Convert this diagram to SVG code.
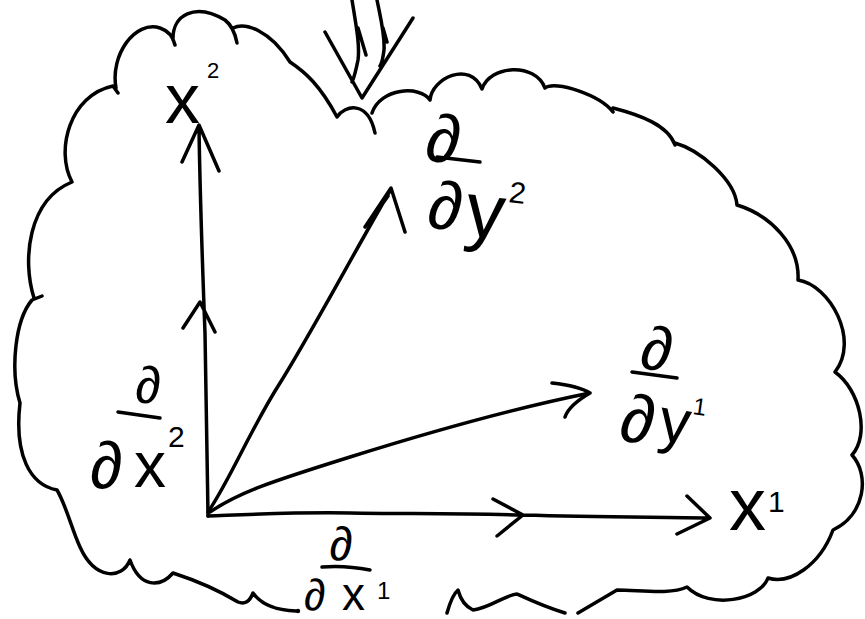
<svg xmlns="http://www.w3.org/2000/svg" width="865" height="619" viewBox="0 0 865 619">
<style>
.ink{fill:none;stroke:#000;stroke-width:3.5;stroke-linecap:round;stroke-linejoin:round}
.t{font-family:"Liberation Sans",Arial,sans-serif;fill:#000}
</style>
<rect width="865" height="619" fill="#fff"/>
<g id="manifold">
<path class="ink" d="M296,611 Q265,610 253,593 Q248,606 238,602 Q210,585 173,573 C160,588 140,588 130,560 C122,580 95,580 80,547 C72,530 66,505 57,490 C30,485 14,455 20,403 C10,370 15,320 32,300 L42,296 M34,298 C22,260 28,200 72,182 C55,150 70,95 113,86 L118,93 M116,88 C110,55 135,20 160,28 Q172,32 175,45 M173,40 C172,15 195,2 225,20 Q234,27 237,43 M233,28 C245,22 270,30 290,62 C305,72 320,85 337,117 C345,105 368,100 375,133 M372,113 C380,88 420,85 430,100 C432,78 470,60 482,89 C490,65 535,62 545,88 C555,80 600,95 613,112 M613,108 C640,115 668,125 675,145 M675,143 C700,150 735,180 737,205 C770,215 800,245 798,280 C830,285 860,340 835,372 C860,390 870,435 852,455 C870,475 865,515 833,530 C820,565 790,585 768,578 C760,600 710,610 687,587 C670,595 640,590 617,590 Q600,600 578,613"/>
<path class="ink" d="M447,613 Q452,595 458,590 Q462,605 473,610 C490,608 505,595 517,594 C530,600 545,607 565,613"/>
<circle cx="298" cy="611" r="2.2" fill="#000"/>
</g>
<g id="connectors">
<path class="ink" d="M352,0 C356,25 360,45 358,60 C356,70 354,78 352,82 M358,28 L366,55 M377,0 C381,20 385,35 384,50 C383,58 382,63 380,66 M383,28 L387,42 M325,32 L362,98 L413,18"/>
<path class="ink" d="M208,516 C207,450 206,380 205,333 C203,280 200,200 199,127 M183,328 L200,302 L215,332 M182,162 L199,125 L219,171"/>
<path class="ink" d="M208,516 C260,514 300,512 350,513 S450,513 523,515 S650,517 710,518 M493,499 L523,515 L497,536 M687,496 L710,518 L677,534"/>
<path class="ink" d="M208,512 C230,480 250,430 280,383 C310,335 350,260 391,189 M365,227 L391,188 L405,232 M369,223 L388,196"/>
<path class="ink" d="M210,512 C240,492 270,482 350,457 C430,432 520,407 590,393 M552,383 C570,385 582,388 590,393 C578,400 568,408 565,417"/>
</g>
<g id="label-x2">
<text class="t" x="165" y="123" font-size="70">x</text>
<text class="t" x="207" y="78" font-size="22">2</text>
</g>
<g id="label-x1">
<text class="t" x="729" y="530" font-size="74">x</text>
<text class="t" x="768" y="512" font-size="30">1</text>
</g>
<g id="label-d-dx1">
<text class="t" x="341" y="560" font-size="47" text-anchor="middle">∂</text>
<path class="ink" d="M322,567 Q345,565 370,570"/>
<text class="t" x="304" y="610" font-size="44">∂</text>
<text class="t" x="342" y="610" font-size="46">x</text>
<text class="t" x="377" y="599" font-size="24">1</text>
</g>
<g id="label-d-dy1">
<text class="t" x="654" y="370" font-size="62" text-anchor="middle" transform="rotate(8 654 370)">∂</text>
<path class="ink" d="M632,372 L677,378"/>
<text class="t" x="618" y="440" font-size="68" transform="rotate(8 618 440)">∂</text>
<text class="t" x="657" y="440" font-size="62" transform="rotate(8 657 440)">y</text>
<text class="t" x="692" y="414" font-size="24" transform="rotate(8 692 414)">1</text>
</g>
<g id="label-d-dy2">
<text class="t" x="424" y="160" font-size="68" transform="rotate(7 424 160)">∂</text>
<path class="ink" d="M437,157 L480,162"/>
<text class="t" x="426" y="227" font-size="68" transform="rotate(7 426 227)">∂</text>
<text class="t" x="463" y="235" font-size="78" transform="rotate(7 463 235)">y</text>
<text class="t" x="508" y="202" font-size="30" transform="rotate(7 508 202)">2</text>
</g>
<g id="label-d-dx2">
<text class="t" x="148" y="403" font-size="52" text-anchor="middle">∂</text>
<path class="ink" d="M118,412 L160,418"/>
<text class="t" x="90" y="488" font-size="66">∂</text>
<text class="t" x="134" y="487" font-size="64">x</text>
<text class="t" x="168" y="447" font-size="30">2</text>
</g>
</svg>
